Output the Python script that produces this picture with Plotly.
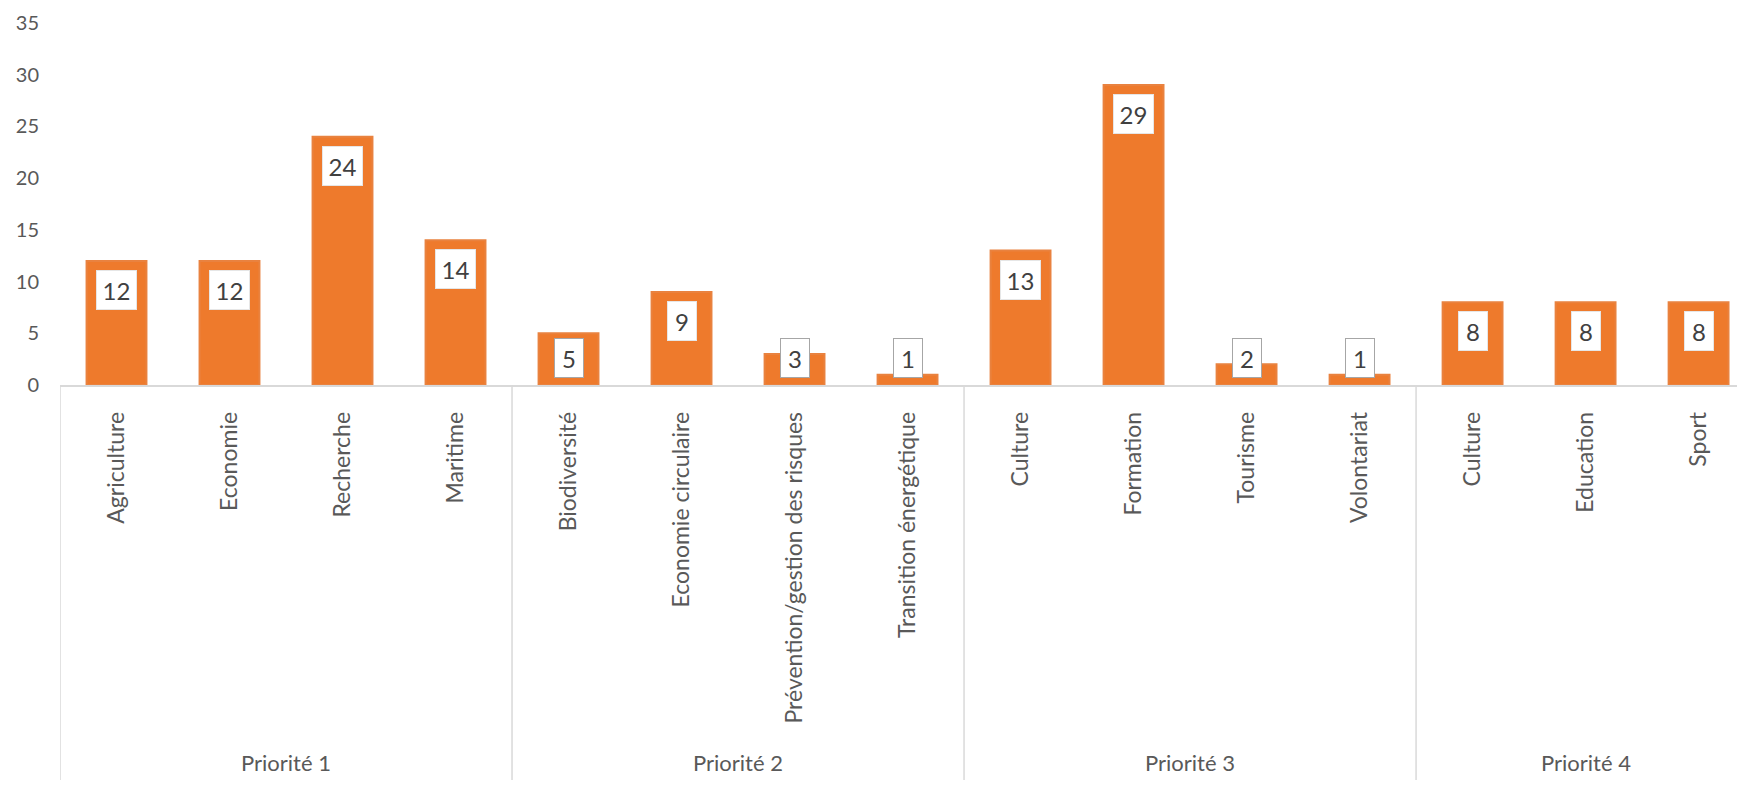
import plotly.graph_objects as go

groups = ["Priorité 1", "Priorité 2", "Priorité 3", "Priorité 4"]
group_sizes = [4, 4, 4, 3]
categories = ["Agriculture", "Economie", "Recherche", "Maritime",
              "Biodiversité", "Economie circulaire", "Prévention/gestion des risques", "Transition énergétique",
              "Culture", "Formation", "Tourisme", "Volontariat",
              "Culture", "Education", "Sport"]
values = [12, 12, 24, 14, 5, 9, 3, 1, 13, 29, 2, 1, 8, 8, 8]
y_ticks = [0, 5, 10, 15, 20, 25, 30, 35]

FONT = "Lato"
GRAY = "#595959"
LINE = "#D9D9D9"

xs = list(range(len(categories)))

fig = go.Figure()
fig.add_trace(go.Bar(
    x=xs, y=values, width=0.53,
    marker=dict(color="#EE7A2C", line=dict(color="#E9823F", width=2)),
    hoverinfo="skip", showlegend=False,
))

# data labels
for x, v in zip(xs, values):
    txt = str(v)
    w = 37 if len(txt) > 1 else 26
    common = dict(x=x, xref="x", yref="y", text=txt, showarrow=False,
                  font=dict(family=FONT, size=24, color="#404040"),
                  bgcolor="white", borderwidth=1, borderpad=1,
                  width=w, height=36)
    if v >= 6:
        fig.add_annotation(y=v, yanchor="top", yshift=-9, bordercolor="#E6E6E6", **common)
    else:
        fig.add_annotation(y=0, yanchor="bottom", yshift=7, bordercolor="#A6A6A6", **common)

# group separators and labels
start = 0
bounds = [-0.5]
for g, n in zip(groups, group_sizes):
    center = start + (n - 1) / 2
    fig.add_annotation(x=center, xref="x", y=0, yref="paper", yanchor="middle",
                       yshift=-377, text=g, showarrow=False,
                       font=dict(family=FONT, size=22, color=GRAY))
    start += n
    bounds.append(start - 0.5)

for b in bounds:
    fig.add_shape(type="line", xref="x", yref="paper", x0=b, x1=b,
                  ysizemode="pixel", yanchor=0, y0=0, y1=-395,
                  line=dict(color=LINE, width=1.5))

fig.update_layout(
    width=1737, height=789,
    margin=dict(l=60, r=0, t=23, b=404),
    plot_bgcolor="white", paper_bgcolor="white",
    font=dict(family=FONT, color=GRAY),
)
fig.update_xaxes(
    range=[-0.5, 14.34],
    tickmode="array", tickvals=xs, ticktext=categories,
    tickangle=-90, tickfont=dict(family=FONT, size=23, color=GRAY),
    ticks="", showgrid=False, zeroline=False,
    showline=True, linecolor=LINE, linewidth=1.5,
    ticklabelstandoff=16,
)
fig.update_yaxes(
    range=[0, 35], tickmode="array", tickvals=y_ticks,
    tickfont=dict(family=FONT, size=20, color=GRAY),
    showgrid=False, zeroline=False, showline=False, ticks="",
    ticklabelstandoff=20,
)

fig.write_html("out.html", config={"displayModeBar": False},
               post_script="document.body.style.margin='0';document.body.style.overflow='hidden';")
